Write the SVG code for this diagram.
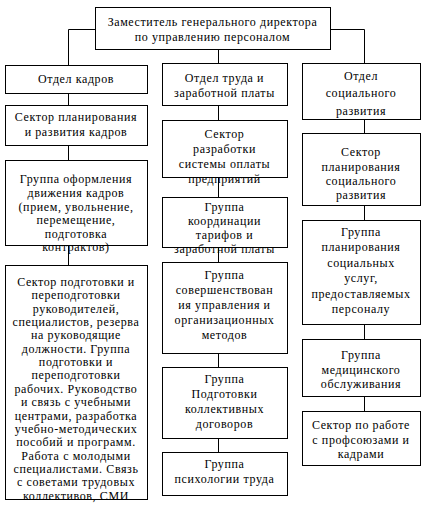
<svg xmlns="http://www.w3.org/2000/svg" width="423" height="508" viewBox="0 0 423 508">
<style>
.b{fill:#fff;stroke:#000;stroke-width:1}
.c{stroke:#000;stroke-width:1;fill:none}
.t text{font-family:'Liberation Serif','Times New Roman',serif;font-size:12px;letter-spacing:0.6px;fill:#000;text-anchor:middle}
</style>
<rect width="423" height="508" fill="#fff"/>
<g id="connectors" class="c">
<path d="M95.5,29.5H68.5V65"/>
<path d="M330.5,29.5H364.5V63"/>
<path d="M218.5,49V63"/>
<path d="M68.5,93V105M68.5,145V160M68.5,245V265"/>
<path d="M218.5,105V120M218.5,177V197M218.5,247V262M218.5,353V367M218.5,438V452"/>
<path d="M364.5,119V133M364.5,205V220M364.5,324V339M364.5,396V411"/>
</g>
<g class="t">
<g id="n0"><rect class="b" x="95.5" y="7.5" width="235" height="42"/>
<text x="212.5" y="25.5">Заместитель генерального директора</text>
<text x="212.5" y="40.5">по управлению персоналом</text></g>
<g id="n1"><rect class="b" x="5.5" y="65.5" width="142" height="28"/>
<text x="76" y="83">Отдел кадров</text></g>
<g id="n2"><rect class="b" x="162.5" y="63.5" width="125" height="42"/>
<text x="224.5" y="82">Отдел труда и</text>
<text x="224.5" y="97">заработной платы</text></g>
<g id="n3"><rect class="b" x="302.5" y="63.5" width="118" height="56"/>
<text x="361" y="79.5">Отдел</text>
<text x="361" y="97">социального</text>
<text x="361" y="115">развития</text></g>
<g id="n4"><rect class="b" x="5.5" y="105.5" width="142" height="40"/>
<text x="76" y="121">Сектор планирования</text>
<text x="76" y="136">и развития кадров</text></g>
<g id="n5"><rect class="b" x="5.5" y="160.5" width="142" height="85"/>
<text x="76" y="183">Группа оформления</text>
<text x="76" y="197">движения кадров</text>
<text x="76" y="210.5">(прием, увольнение,</text>
<text x="76" y="224">перемещение,</text>
<text x="76" y="237.5">подготовка</text>
<text x="76" y="251">контрактов)</text></g>
<g id="n6"><rect class="b" x="5.5" y="265.5" width="142" height="234"/>
<text x="76" y="286">Сектор подготовки и</text>
<text x="76" y="299.4">переподготовки</text>
<text x="76" y="312.7">руководителей,</text>
<text x="76" y="326">специалистов, резерва</text>
<text x="76" y="339.4">на руководящие</text>
<text x="76" y="352.8">должности. Группа</text>
<text x="76" y="366.1">подготовки и</text>
<text x="76" y="379.4">переподготовки</text>
<text x="76" y="392.8">рабочих. Руководство</text>
<text x="76" y="406.2">и связь с учебными</text>
<text x="76" y="419.5">центрами, разработка</text>
<text x="76" y="432.8">учебно-методических</text>
<text x="76" y="446.2">пособий и программ.</text>
<text x="76" y="459.6">Работа с молодыми</text>
<text x="76" y="472.9">специалистами. Связь</text>
<text x="76" y="486.2">с советами трудовых</text>
<text x="76" y="499.6">коллективов, СМИ</text></g>
<g id="n7"><rect class="b" x="162.5" y="120.5" width="125" height="57"/>
<text x="224.5" y="137.5">Сектор</text>
<text x="224.5" y="152.5">разработки</text>
<text x="224.5" y="167.5">системы оплаты</text>
<text x="224.5" y="183">предприятий</text></g>
<g id="n8"><rect class="b" x="162.5" y="197.5" width="125" height="50"/>
<text x="224.5" y="211">Группа</text>
<text x="224.5" y="224.5">координации</text>
<text x="224.5" y="239">тарифов и</text>
<text x="224.5" y="252.5">заработной платы</text></g>
<g id="n9"><rect class="b" x="162.5" y="262.5" width="125" height="91"/>
<text x="224.5" y="279">Группа</text>
<text x="224.5" y="294">совершенствован</text>
<text x="224.5" y="309">ия управления и</text>
<text x="224.5" y="324">организационных</text>
<text x="224.5" y="339">методов</text></g>
<g id="n10"><rect class="b" x="162.5" y="367.5" width="125" height="71"/>
<text x="224.5" y="382.5">Группа</text>
<text x="224.5" y="397.5">Подготовки</text>
<text x="224.5" y="412.5">коллективных</text>
<text x="224.5" y="427.5">договоров</text></g>
<g id="n11"><rect class="b" x="162.5" y="452.5" width="125" height="43"/>
<text x="224.5" y="467.5">Группа</text>
<text x="224.5" y="482.5">психологии труда</text></g>
<g id="n12"><rect class="b" x="302.5" y="133.5" width="118" height="72"/>
<text x="361" y="156">Сектор</text>
<text x="361" y="170.5">планирования</text>
<text x="361" y="184.5">социального</text>
<text x="361" y="198.5">развития</text></g>
<g id="n13"><rect class="b" x="302.5" y="220.5" width="118" height="104"/>
<text x="361" y="236">Группа</text>
<text x="361" y="251.4">планирования</text>
<text x="361" y="266.8">социальных</text>
<text x="361" y="282.2">услуг,</text>
<text x="361" y="297.6">предоставляемых</text>
<text x="361" y="313">персоналу</text></g>
<g id="n14"><rect class="b" x="302.5" y="339.5" width="118" height="57"/>
<text x="361" y="359">Группа</text>
<text x="361" y="373.5">медицинского</text>
<text x="361" y="388">обслуживания</text></g>
<g id="n15"><rect class="b" x="302.5" y="411.5" width="118" height="54"/>
<text x="361" y="429">Сектор по работе</text>
<text x="361" y="444">с профсоюзами и</text>
<text x="361" y="458">кадрами</text></g>
</g>
</svg>
